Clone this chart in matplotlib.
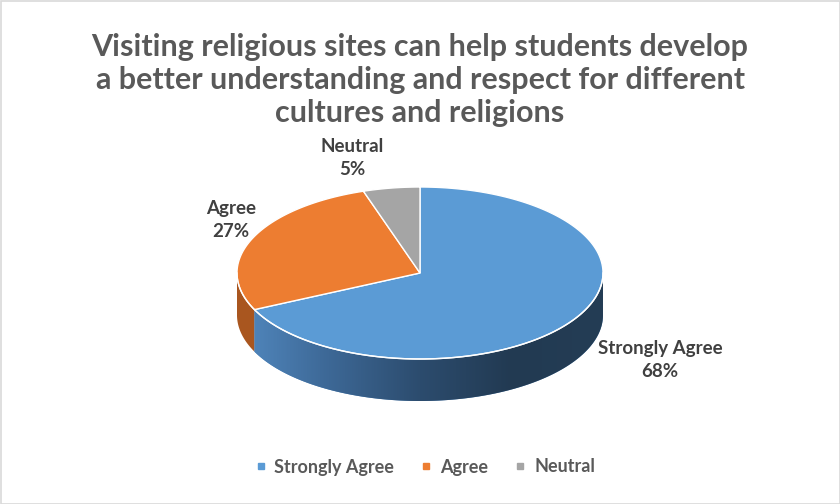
import numpy as np
import matplotlib.pyplot as plt
from matplotlib.patches import Polygon, Rectangle
from matplotlib.lines import Line2D
from matplotlib.colors import LinearSegmentedColormap

plt.rcParams['font.family'] = ['Lato', 'DejaVu Sans']

title = ("Visiting religious sites can help students develop\n"
         "a better understanding and respect for different\n"
         "cultures and religions")
labels = ["Strongly Agree", "Agree", "Neutral"]
values = [68, 27, 5]
colors = ["#5b9bd5", "#ed7d31", "#a5a5a5"]
side_colors = ["#4f86bd", "#a9561f", "#777777"]

fig = plt.figure(figsize=(8.4, 5.04), dpi=100)
ax = fig.add_axes([0, 0, 1, 1])
ax.set_xlim(0, 840)
ax.set_ylim(504, 0)
ax.axis('off')

# tilted pie geometry (pixel units)
cx, cy, rx, ry, depth = 420, 273, 183, 86, 42


def arc(t0, t1, dy=0, n=300):
    t = np.radians(np.linspace(t0, t1, n))
    return np.column_stack([cx + rx * np.cos(t), cy - ry * np.sin(t) + dy])


# slices run clockwise from 12 o'clock
fracs = np.array(values, dtype=float) / sum(values)
ends = 90 - 360 * np.cumsum(fracs)
starts = np.r_[90, ends[:-1]]

side_cmap = LinearSegmentedColormap.from_list(
    "side", ["#5289c0", "#3d6896", "#2c4c6e", "#223a52", "#243d55"])

# visible rim: the front half of the ellipse, angles in [-180, 0]
for i, (s, e) in enumerate(zip(starts, ends)):
    lo, hi = max(e, -180), min(s, 0)
    if hi <= lo:
        continue
    pts = np.vstack([arc(lo, hi), arc(hi, lo, dy=depth)])
    poly = Polygon(pts, closed=True, facecolor=side_colors[i],
                   edgecolor='none', zorder=1)
    ax.add_patch(poly)
    if i == 0:
        grad = np.linspace(0, 1, 256).reshape(1, -1)
        im = ax.imshow(grad, cmap=side_cmap, aspect='auto',
                       extent=(cx - rx, cx + rx, cy + ry + depth, cy - 5),
                       zorder=2)
        im.set_clip_path(poly)

# top face
for i, (s, e) in enumerate(zip(starts, ends)):
    pts = np.vstack([[cx, cy], arc(s, e), [cx, cy]])
    ax.add_patch(Polygon(pts, closed=True, facecolor=colors[i],
                         edgecolor='white', linewidth=1.0, zorder=3))
ax.plot(*arc(-180, 0).T, color='white', lw=1.0, zorder=4)

# data labels
label_pos = [(660, 360), (231, 220), (352, 158)]
for lab, v, (x, y) in zip(labels, values, label_pos):
    ax.text(x, y, f"{lab}\n{v}%", ha='center', va='center',
            fontsize=13.5, fontweight='bold', color='#404040',
            linespacing=1.38, zorder=5)

ax.text(420, 80, title, ha='center', va='center', fontsize=22,
        fontweight='bold', color='#595959', linespacing=1.22)

handles = [Line2D([], [], marker='s', ls='none', markersize=5,
                  markerfacecolor=c, markeredgecolor=c) for c in colors]
fig.legend(handles, labels, loc='center', bbox_to_anchor=(425 / 840, 1 - 467 / 504),
           ncol=3, frameon=False, handlelength=0.6, handletextpad=0.45,
           columnspacing=1.5, prop={'size': 13, 'weight': 'bold'},
           labelcolor='#595959')

ax.add_patch(Rectangle((0.5, 0.5), 839, 503, fill=False,
                       edgecolor='#d9d9d9', lw=1.2, zorder=6))

fig.savefig('out.png', dpi=100)
